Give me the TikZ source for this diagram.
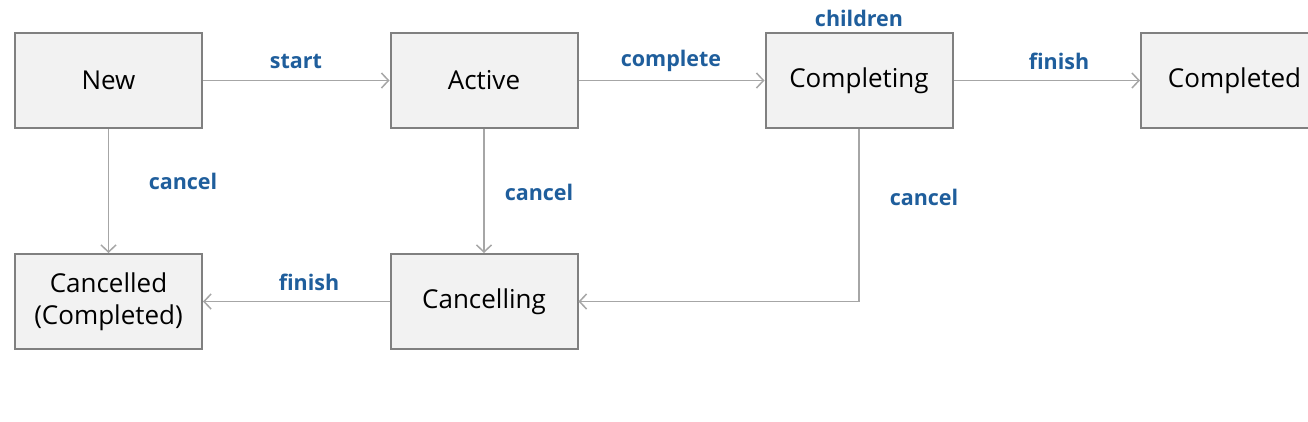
\documentclass[tikz,border=0pt]{standalone}
\usepackage{fontspec}
\setmainfont{Open Sans}
\usetikzlibrary{arrows.meta}
\definecolor{boxfill}{HTML}{F2F2F2}
\definecolor{boxline}{HTML}{808080}
\definecolor{edgeline}{HTML}{A6A6A6}
\definecolor{lblblue}{HTML}{1F5E9C}
\begin{document}
\begin{tikzpicture}[x=1pt,y=-1pt,
  state/.style={draw=boxline,fill=boxfill,line width=2pt,minimum width=187pt,minimum height=95pt,inner sep=0pt,align=center,font=\fontsize{26}{32}\selectfont},
  edge/.style={draw=edgeline,line width=1.8pt,-{Straight Barb[length=7pt,width=15pt,line width=1.5pt]}},
  lbl/.style={text=lblblue,font=\fontsize{21.5}{26}\selectfont\bfseries}]
\useasboundingbox[fill=white] (0,0) rectangle (1308,421);
\clip (0,0) rectangle (1308,421);
\node[state] (new) at (108.5,80.5) {New};
\node[state] (active) at (484,80.5) {Active};
\node[state] (completing) at (859,80.5) {Completing};
\node[state] (completed) at (1234.5,80.5) {Completed};
\node[state] (cancelled) at (108.5,301.5) {Cancelled\\(Completed)};
\node[state] (cancelling) at (484,301.5) {Cancelling};
\draw[edge] (new) -- (active);
\draw[edge] (active) -- (completing);
\draw[edge] (completing) -- (completed);
\draw[edge] (new) -- (cancelled);
\draw[edge] (active) -- (cancelling);
\draw[edge] (completing.south) |- (cancelling.east);
\draw[edge] (cancelling) -- (cancelled);
\node[lbl] (lstart) at (296,61) {start};
\node[lbl] (lcomplete) at (671,61) {complete};
\node[lbl] (lfinish1) at (1059,61) {finish};
\node[lbl] (lchildren) at (859,18) {children};
\node[lbl] (lcancel1) at (183,181) {cancel};
\node[lbl] (lcancel2) at (539,192) {cancel};
\node[lbl] (lcancel3) at (924,197) {cancel};
\node[lbl] (lfinish2) at (309,282) {finish};
\end{tikzpicture}
\end{document}
